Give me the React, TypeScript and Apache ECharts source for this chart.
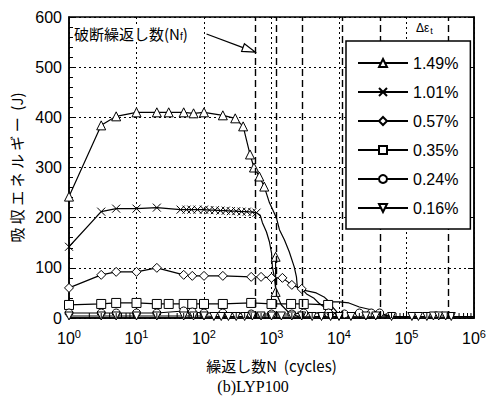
import React, { useEffect, useRef } from 'react';
import * as echarts from 'echarts';

// ---- data (N cycles, absorbed energy J) ----
const seriesNames = ['1.49%', '1.01%', '0.57%', '0.35%', '0.24%', '0.16%'];

const s149Markers = [[1,242],[3,384],[5,402],[10,410],[20,410],[30,410],[50,410],[70,408],[100,410],[190,404],[290,398],[380,382],[480,326],[550,300],[660,282],[780,262]];
const s149Tail = [[930,230],[1180,200],[1310,176],[1550,156],[1830,132],[2170,102],[2340,82],[2410,62],[2860,56],[4600,50],[6000,42],[7200,32],[10000,32],[14000,30],[20000,22],[31000,16],[44000,6],[77000,2]];
const s149Extra = [[1150,122],[1150,52]];

const s101Markers = [[1,142],[3,212],[5,218],[10,218],[20,220],[45,216],[55,216],[65,216],[80,216],[100,216],[120,215],[145,215],[175,214],[210,214],[250,213],[300,213],[360,212],[430,212],[520,211],[600,210]];
const s101Tail = [[680,205],[733,190],[840,172],[930,152],[1000,130],[1030,102],[1100,82],[1170,50],[1400,26],[1830,10],[2560,2]];

const s057Markers = [[1,60],[3,86],[5,92],[10,92],[20,100],[50,86],[67,84],[100,84],[190,84],[500,82],[700,82],[1000,80],[1450,80],[2000,66],[2800,58]];
const s057Tail = [[3300,48],[4200,40],[5000,30],[6000,22],[7500,14],[9000,8],[11000,3]];

const s035Markers = [[1,26],[3,28],[5,30],[10,30],[20,28],[30,28],[50,28],[67,28],[100,28],[190,28],[500,30],[1000,28],[1950,28],[3000,28],[6900,26]];
const s035Tail = [[8000,22],[9000,14],[10000,6],[11000,1]];

const s024Markers = [[1,10],[3,10],[5,10],[10,10],[20,10],[50,14],[67,12],[100,10],[190,10],[500,8],[1000,8],[2000,8],[3000,10],[7000,10],[12000,8],[20000,10],[30000,10],[40000,10]];
const s024Tail = [[50000,6],[70000,3],[100000,1]];

const s016Markers = [[1,4],[3,4],[5,4],[10,4],[20,4],[50,4],[70,4],[100,4],[140,3],[180,3],[230,3],[300,3],[400,3],[520,4],[700,4],[1000,4],[1400,4],[2000,4],[2800,4],[4000,3],[5500,3],[7500,3],[10000,3],[15000,3],[25000,4],[35000,4],[60000,3],[120000,3],[150000,3],[200000,3],[250000,4],[300000,4],[380000,4],[460000,3]];
const s016Tail = [[1000000,3]];

// fracture cycles N_f (dashed lines)
const nfValues = [573, 1170, 2830, 11000, 41400, 416000];

const yTicks = [0, 100, 200, 300, 400, 500, 600];

const FONT = "'Liberation Sans', Arial, Helvetica, sans-serif";
const JP = "'Noto Sans CJK JP', sans-serif";

const symX = 'path://M0,0L10,10M10,0L0,10';

function build(markers: number[][], tail: number[][]) {
  return [
    ...markers.map((p) => ({ value: p })),
    ...tail.map((p) => ({ value: p, symbol: 'none' })),
  ];
}

const minorTickValues: number[][] = [];
for (let k = 0; k < 6; k++) {
  for (let m = 2; m <= 9; m++) minorTickValues.push([m * Math.pow(10, k), 0]);
}

export default function App() {
  const ref = useRef<HTMLDivElement>(null);
  useEffect(() => {
    if (!ref.current) return;
    const chart = echarts.init(ref.current, undefined, { renderer: 'svg' });

    const baseItem = { color: '#fff', borderColor: '#000', borderWidth: 1 };
    const lineS = { color: '#000', width: 1.2 };
    const mk = (name: string, data: any[], symbol: string, rotate = 0, size = 8) => ({
      type: 'line',
      name,
      data,
      symbol,
      symbolSize: size,
      symbolRotate: rotate,
      showAllSymbol: true,
      itemStyle: baseItem,
      lineStyle: lineS,
      z: 3,
    });

    const series: any[] = [
      mk(seriesNames[0], build(s149Markers, s149Tail), 'triangle', 0, 9),
      mk(seriesNames[1], build(s101Markers, s101Tail), symX, 0, 8),
      mk(seriesNames[2], build(s057Markers, s057Tail), 'diamond', 0, 9),
      mk(seriesNames[3], build(s035Markers, s035Tail), 'rect', 0, 9),
      mk(seriesNames[4], build(s024Markers, s024Tail), 'circle', 0, 8),
      {
        ...mk(seriesNames[5], build(s016Markers, s016Tail), 'triangle', 180, 8),
        markLine: {
          silent: true,
          symbol: ['none', 'none'],
          label: { show: false },
          lineStyle: { color: '#000', type: [7, 4], width: 1.4 },
          data: nfValues.map((v) => ({ xAxis: v })),
        },
      },
      { ...mk('extra', s149Extra, 'triangle', 0, 9) },
      {
        type: 'custom',
        name: 'minor',
        data: minorTickValues,
        silent: true,
        z: 4,
        renderItem: (params: any, api: any) => {
          const p = api.coord([api.value(0), 0]);
          return {
            type: 'line',
            shape: { x1: p[0], y1: p[1], x2: p[0], y2: p[1] - 5 },
            style: { stroke: '#000', lineWidth: 1 },
          };
        },
      },
    ];

    chart.setOption({
      animation: false,
      backgroundColor: '#fff',
      grid: { left: 69, top: 17, right: 14, bottom: 79, show: true, borderColor: '#000', borderWidth: 1.5, backgroundColor: 'transparent' },
      legend: {
        data: seriesNames,
        orient: 'vertical',
        left: 346,
        top: 41,
        padding: [14, 12, 13, 11],
        itemGap: 13,
        itemWidth: 50,
        itemHeight: 10,
        backgroundColor: '#fff',
        borderColor: '#000',
        borderWidth: 1.5,
        textStyle: { fontFamily: FONT, fontSize: 16, color: '#000' },
        z: 10,
      },
      xAxis: [
        {
          type: 'log',
          logBase: 10,
          min: 1,
          max: 1e6,
          axisLine: { show: true, lineStyle: { color: '#000', width: 1.5 } },
          axisTick: { show: true, inside: true, length: 7, lineStyle: { color: '#000' } },
          axisLabel: {
            margin: 10,
            formatter: (v: number) => `{b|10}{s|${Math.round(Math.log10(v))}}`,
            rich: {
              b: { fontFamily: FONT, fontSize: 16, color: '#000' },
              s: { fontFamily: FONT, fontSize: 11, color: '#000', verticalAlign: 'top', padding: [0, 0, 9, 0] },
            },
          },
          splitLine: { show: true, lineStyle: { color: '#000', type: [2, 3], width: 1 } },
          name: '繰返し数N  (cycles)',
          nameLocation: 'middle',
          nameGap: 39,
          nameTextStyle: { fontFamily: JP, fontSize: 15, color: '#000', lineHeight: 16 },
        },
      ],
      yAxis: [
        {
          type: 'value',
          min: yTicks[0],
          max: yTicks[yTicks.length - 1],
          interval: 100,
          axisLine: { show: true, lineStyle: { color: '#000', width: 1.5 } },
          axisTick: { show: true, inside: true, length: 7, lineStyle: { color: '#000' } },
          minorTick: { show: true, splitNumber: 5, length: 4, lineStyle: { color: '#000' } },
          axisLabel: { margin: 7, fontFamily: FONT, fontSize: 16, color: '#000' },
          splitLine: { show: true, lineStyle: { color: '#000', type: [2, 3], width: 1 } },
          name: '吸 収 エ ネ ル ギ ー  (J)',
          nameLocation: 'middle',
          nameGap: 44,
          nameTextStyle: { fontFamily: JP, fontSize: 15, color: '#000' },
        },
        {
          type: 'value',
          position: 'right',
          min: yTicks[0],
          max: yTicks[yTicks.length - 1],
          interval: 100,
          axisLine: { show: true, lineStyle: { color: '#000', width: 1.5 } },
          axisTick: { show: true, inside: true, length: 6, lineStyle: { color: '#000' } },
          axisLabel: { show: false },
          splitLine: { show: false },
        },
      ],
      series,
    });

    const tip = chart.convertToPixel({ gridIndex: 0 }, [nfValues[0], 530]) as number[];
    const start = chart.convertToPixel({ gridIndex: 0 }, [109, 566]) as number[];
    const dx = tip[0] - start[0];
    const dy = tip[1] - start[1];
    const len = Math.sqrt(dx * dx + dy * dy);
    const ux = dx / len, uy = dy / len;
    const hl = 13, hw = 4;
    const bx = tip[0] - ux * hl, by = tip[1] - uy * hl;

    chart.setOption({
      graphic: [
        {
          type: 'text',
          left: 74,
          top: 25,
          z: 20,
          style: {
            text: '破断繰返し数(N{f|f})',
            fontFamily: JP,
            fontSize: 15,
            fill: '#000',
            backgroundColor: '#fff',
            rich: { f: { fontFamily: FONT, fontSize: 10, verticalAlign: 'bottom', padding: [6, 0, 0, 0] } },
          },
        },
        {
          type: 'line',
          z: 20,
          shape: { x1: start[0], y1: start[1], x2: bx, y2: by },
          style: { stroke: '#000', lineWidth: 1.2 },
        },
        {
          type: 'polygon',
          z: 20,
          shape: { points: [[tip[0], tip[1]], [bx - uy * hw, by + ux * hw], [bx + uy * hw, by - ux * hw]] },
          style: { stroke: '#000', fill: '#fff', lineWidth: 1.2 },
        },
        {
          type: 'text',
          left: 416,
          top: 22,
          z: 20,
          style: {
            text: 'Δε{t|t}',
            fontFamily: FONT,
            fontSize: 12,
            fill: '#000',
            rich: { t: { fontFamily: FONT, fontSize: 9, verticalAlign: 'bottom', padding: [5, 0, 0, 1] } },
          },
        },
        {
          type: 'text',
          x: 253,
          y: 386,
          z: 20,
          style: {
            text: '(b)LYP100',
            fontFamily: "'Liberation Serif', 'Times New Roman', serif",
            fontSize: 16,
            fill: '#000',
            textAlign: 'center',
            textVerticalAlign: 'middle',
          },
        },
      ],
    });

    return () => chart.dispose();
  }, []);

  return <div ref={ref} style={{ position: 'fixed', left: 0, top: 0, width: 489, height: 397, background: '#fff' }} />;
}
